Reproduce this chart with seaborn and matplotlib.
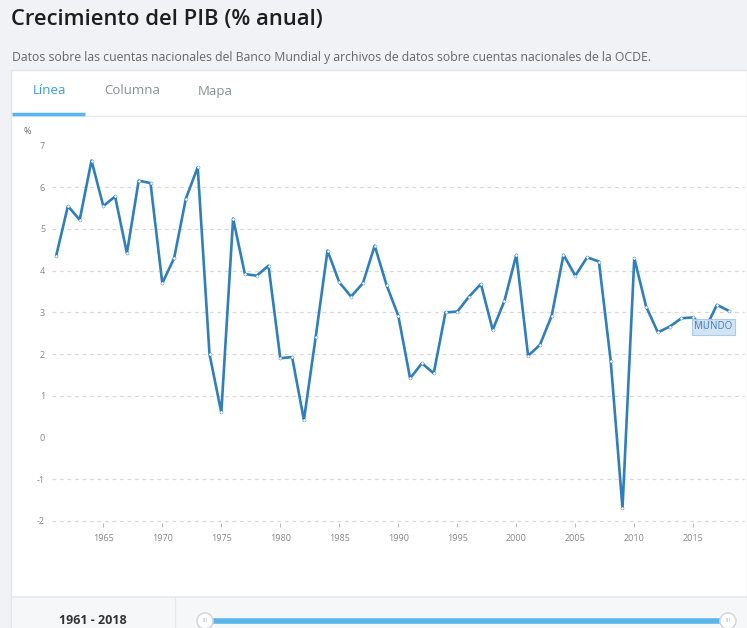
import matplotlib
matplotlib.use("Agg")
import matplotlib.pyplot as plt
import seaborn as sns
import pandas as pd
from matplotlib.patches import Rectangle, Circle

years = list(range(1961, 2019))
growth = [4.35, 5.55, 5.22, 6.64, 5.55, 5.78, 4.42, 6.16, 6.10, 3.70,
          4.30, 5.73, 6.48, 2.00, 0.60, 5.25, 3.92, 3.88, 4.12, 1.90,
          1.93, 0.42, 2.41, 4.48, 3.72, 3.38, 3.70, 4.60, 3.66, 2.92,
          1.42, 1.78, 1.54, 3.00, 3.02, 3.38, 3.68, 2.58, 3.28, 4.38,
          1.96, 2.22, 2.92, 4.38, 3.88, 4.32, 4.22, 1.84, -1.69, 4.30,
          3.14, 2.52, 2.66, 2.86, 2.88, 2.60, 3.18, 3.04]
series_label = "MUNDO"
y_ticks = [-2, -1, 0, 1, 2, 3, 4, 5, 6, 7]
grid_values = [-2, -1, 1, 2, 3, 4, 5, 6]
x_ticks = [1965, 1970, 1975, 1980, 1985, 1990, 1995, 2000, 2005, 2010, 2015]

df = pd.DataFrame({"year": years, "growth": growth})

sns.set_theme(style="white")
plt.rcParams["font.family"] = ["Open Sans", "DejaVu Sans"]

W, H = 747, 628
fig = plt.figure(figsize=(W / 100, H / 100), dpi=100)

# background / page layer in pixel coordinates
bg = fig.add_axes([0, 0, 1, 1], zorder=0)
bg.set_xlim(0, W)
bg.set_ylim(H, 0)
bg.axis("off")
bg.add_patch(Rectangle((0, 0), W, H, facecolor="#f1f2f6", edgecolor="none"))
bg.add_patch(Rectangle((11, 70), W - 11, H - 70, facecolor="white", edgecolor="#e3e5ea", lw=1))
bg.text(11, 20, "Crecimiento del PIB (% anual)", fontsize=15.8, fontweight="semibold",
        color="#1e1e1e", va="center", ha="left")
bg.text(12, 58, "Datos sobre las cuentas nacionales del Banco Mundial y archivos de datos sobre cuentas nacionales de la OCDE.",
        fontsize=8.8, color="#666666", va="center", ha="left")
# tabs
bg.text(49, 91, "Línea", fontsize=9.5, color="#3a9de0", va="center", ha="center")
bg.text(132, 91, "Columna", fontsize=9.5, color="#8a8f96", va="center", ha="center")
bg.text(215, 91, "Mapa", fontsize=9.5, color="#8a8f96", va="center", ha="center")
bg.plot([12, W], [115.5, 115.5], color="#e6e8ec", lw=1)
bg.plot([12, 85], [113.5, 113.5], color="#5ab4ec", lw=2.5, solid_capstyle="butt")
# bottom strip
bg.add_patch(Rectangle((12, 597), W - 12, H - 597, facecolor="#f6f7f9", edgecolor="none"))
bg.plot([12, W], [596.5, 596.5], color="#e6e8ec", lw=1.2)
bg.plot([175, 175], [597, H], color="#e6e8ec", lw=1)
bg.text(93, 621, "1961 - 2018", fontsize=9, fontweight="bold", color="#333333", va="center", ha="center")
bg.plot([205, 728], [621, 621], color="#5ab4ec", lw=4, solid_capstyle="butt")
for cx in (205, 728):
    bg.add_patch(Circle((cx, 621), 8, facecolor="white", edgecolor="#d6d9de", lw=1.2, zorder=5))
    bg.text(cx, 621, "III", fontsize=4.5, color="#b8bcc2", ha="center", va="center", zorder=6)
bg.text(27, 131, "%", fontsize=6.5, color="#666666", ha="center", va="center")

# main axes
px_per_year = 11.8
px_per_unit = 41.7
y0_px = 437.5
x1965_px = 103.3
ax_left_px, ax_right_px = 52, 745
ax_top_px, ax_bot_px = 130, 523
ax = fig.add_axes([ax_left_px / W, 1 - ax_bot_px / H,
                   (ax_right_px - ax_left_px) / W, (ax_bot_px - ax_top_px) / H], zorder=2)
ax.patch.set_alpha(0)
xmin = 1965 + (ax_left_px - x1965_px) / px_per_year
xmax = 1965 + (ax_right_px - x1965_px) / px_per_year
ymin = (y0_px - ax_bot_px) / px_per_unit
ymax = (y0_px - ax_top_px) / px_per_unit

for g in grid_values:
    ax.axhline(g, color="#d9d9d9", lw=0.9, ls=(0, (3, 3)), zorder=0)

sns.lineplot(data=df, x="year", y="growth", ax=ax, color="#2f7ebd", lw=1.9,
             marker="o", markersize=2.2, markerfacecolor="white",
             markeredgecolor="#2f7ebd", markeredgewidth=0.3, zorder=3)

ax.set_xlim(xmin, xmax)
ax.set_ylim(ymin, ymax)
ax.set_xticks(x_ticks)
ax.set_xticklabels([str(t) for t in x_ticks])
ax.set_yticks(y_ticks)
ax.set_yticklabels([str(t) for t in y_ticks])
for s in ax.spines.values():
    s.set_visible(False)
ax.tick_params(axis="x", bottom=True, length=3, width=0.8, color="#bbbbbb",
               labelsize=6.5, labelcolor="#888888", pad=5)
ax.tick_params(axis="y", left=False, length=0, labelsize=6.5, labelcolor="#888888", pad=5)
ax.set_xlabel("")
ax.set_ylabel("")
ax.grid(False)

# series label
ax.annotate(series_label, xy=(2016.7, 2.65), xycoords="data", fontsize=7, color="#3b7dbd",
            ha="center", va="center", zorder=5,
            bbox=dict(boxstyle="square,pad=0.25", facecolor="#cfe2f3", edgecolor="#a7c6e6", lw=0.8, alpha=0.9))

fig.savefig("out.png", dpi=100)
